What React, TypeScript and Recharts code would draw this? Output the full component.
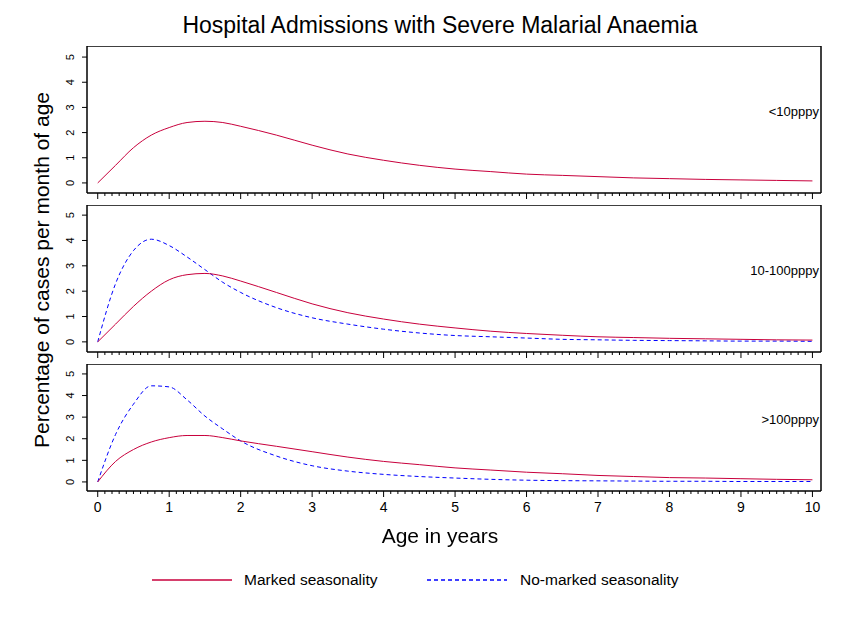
import React from "react";
import { LineChart, Line, XAxis, YAxis, ReferenceLine } from "recharts";

const ages = [0, 0.25, 0.5, 0.75, 1, 1.25, 1.5, 1.75, 2, 2.5, 3, 3.5, 4, 4.5, 5, 5.5, 6, 6.5, 7, 7.5, 8, 8.5, 9, 9.5, 10];
const low_marked = [0, 0.7, 1.4, 1.9, 2.2, 2.4, 2.45, 2.4, 2.25, 1.9, 1.5, 1.15, 0.9, 0.7, 0.55, 0.45, 0.35, 0.3, 0.25, 0.2, 0.17, 0.14, 0.12, 0.1, 0.08];
const low_nomarked = [0, 0.7, 1.4, 1.9, 2.2, 2.4, 2.45, 2.4, 2.25, 1.9, 1.5, 1.15, 0.9, 0.7, 0.55, 0.45, 0.35, 0.3, 0.25, 0.2, 0.17, 0.14, 0.12, 0.1, 0.08];
const mid_marked = [0, 0.7, 1.4, 2.0, 2.45, 2.65, 2.7, 2.6, 2.4, 1.95, 1.5, 1.15, 0.9, 0.7, 0.55, 0.42, 0.33, 0.26, 0.2, 0.17, 0.14, 0.12, 0.1, 0.08, 0.07];
const mid_nomarked = [0, 2.3, 3.6, 4.05, 3.8, 3.35, 2.85, 2.35, 1.95, 1.35, 0.95, 0.7, 0.5, 0.35, 0.25, 0.2, 0.15, 0.1, 0.08, 0.06, 0.05, 0.04, 0.03, 0.03, 0.02];
const high_marked = [0, 0.95, 1.5, 1.85, 2.05, 2.15, 2.15, 2.05, 1.9, 1.65, 1.4, 1.15, 0.95, 0.8, 0.65, 0.55, 0.45, 0.38, 0.3, 0.25, 0.2, 0.18, 0.15, 0.12, 0.1];
const high_nomarked = [0, 2.2, 3.6, 4.45, 4.4, 3.8, 3.05, 2.45, 1.9, 1.2, 0.75, 0.5, 0.35, 0.25, 0.18, 0.12, 0.08, 0.06, 0.05, 0.04, 0.03, 0.03, 0.02, 0.02, 0.02];

const yTicks = [0, 1, 2, 3, 4, 5];
const xMajorLabels = [0, 1, 2, 3, 4, 5, 6, 7, 8, 9, 10];
const xTicks = Array.from({ length: 101 }, (_, i) => i / 10);

const RED = "#c8003c";
const BLUE = "#0000ff";
const FONT = "'Liberation Sans', Arial, sans-serif";
const XDOM = [-0.15, 10.12];

const build = (a: number[], b: number[]) => ages.map((x, i) => ({ x, m: a[i], n: b[i] }));

const panels = [
  { label: "<10pppy", data: build(low_marked, low_nomarked), top: 46, h: 147, dom: [-0.4, 5.44], showNo: false },
  { label: "10-100pppy", data: build(mid_marked, mid_nomarked), top: 205, h: 147, dom: [-0.4, 5.4], showNo: true },
  { label: ">100pppy", data: build(high_marked, high_nomarked), top: 364, h: 127, dom: [-0.42, 5.46], showNo: true },
];

function Panel({ p, last }: any) {
  const xh = last ? 30 : 12;
  const XTick = (props: any) => {
    const { x, y, payload } = props;
    const v = payload.value;
    const major = Math.abs(v - Math.round(v)) < 1e-6;
    return (
      <g>
        <line x1={x} x2={x} y1={y} y2={y + (major ? 6 : 3)} stroke="#000" strokeWidth={1} />
        {major && last && xMajorLabels.includes(Math.round(v)) ? (
          <text x={x} y={y + 21} textAnchor="middle" fontSize={14} fontFamily={FONT} fill="#000">{Math.round(v)}</text>
        ) : null}
      </g>
    );
  };
  const YTick = (props: any) => {
    const { x, y, payload } = props;
    return (
      <text x={x - 6} y={y} transform={`rotate(-90 ${x - 6} ${y})`} textAnchor="middle" fontSize={11} fontFamily={FONT} fill="#000">{payload.value}</text>
    );
  };
  return (
    <div style={{ position: "absolute", left: 0, top: p.top }}>
      <LineChart width={853} height={p.h + xh} data={p.data} margin={{ top: 0, right: 32, bottom: 0, left: 57 }}>
        <XAxis dataKey="x" type="number" domain={XDOM} allowDataOverflow ticks={xTicks} interval={0}
          tick={XTick} tickLine={false} tickSize={0} tickMargin={0} height={xh} axisLine={{ stroke: "#000", strokeWidth: 1.5 }} />
        <YAxis type="number" domain={p.dom} allowDataOverflow ticks={yTicks} interval={0} width={30} tickSize={5} tick={YTick}
          tickLine={{ stroke: "#000" }} axisLine={{ stroke: "#000", strokeWidth: 1.5 }} />
        <ReferenceLine y={p.dom[1]} stroke="#000" strokeWidth={1.5} ifOverflow="visible" />
        <ReferenceLine x={XDOM[1]} stroke="#000" strokeWidth={1.5} ifOverflow="visible" />
        {p.showNo && <Line dataKey="n" type="monotone" stroke={BLUE} strokeDasharray="4 3" dot={false} isAnimationActive={false} />}
        <Line dataKey="m" type="monotone" stroke={RED} dot={false} isAnimationActive={false} />
      </LineChart>
      <div style={{ position: "absolute", right: 34, top: p.h * 0.5 - 16, fontFamily: FONT, fontSize: 13 }}>{p.label}</div>
    </div>
  );
}

export default function App() {
  return (
    <div style={{ position: "fixed", left: 0, top: 0, width: 853, height: 621, background: "#fff", fontFamily: FONT }}>
      <div style={{ position: "absolute", left: 0, width: 880, top: 12, textAlign: "center", fontSize: 23 }}>Hospital Admissions with Severe Malarial Anaemia</div>
      <div style={{ position: "absolute", left: 42, top: 270, width: 0, height: 0 }}>
        <div style={{ position: "absolute", transform: "translate(-50%,-50%) rotate(-90deg)", whiteSpace: "nowrap", fontSize: 21 }}>Percentage of cases per month of age</div>
      </div>
      {panels.map((p, i) => <Panel key={i} p={p} last={i === 2} />)}
      <div style={{ position: "absolute", left: 0, width: 880, top: 524, textAlign: "center", fontSize: 21 }}>Age in years</div>
      <svg style={{ position: "absolute", left: 0, top: 565 }} width={853} height={30}>
        <line x1={152} x2={232} y1={15} y2={15} stroke={RED} strokeWidth={1.5} />
        <text x={244} y={20} fontSize={15.5} fontFamily={FONT}>Marked seasonality</text>
        <line x1={427} x2={507} y1={15} y2={15} stroke={BLUE} strokeWidth={1.5} strokeDasharray="4 3" />
        <text x={520} y={20} fontSize={15.5} fontFamily={FONT}>No-marked seasonality</text>
      </svg>
    </div>
  );
}
